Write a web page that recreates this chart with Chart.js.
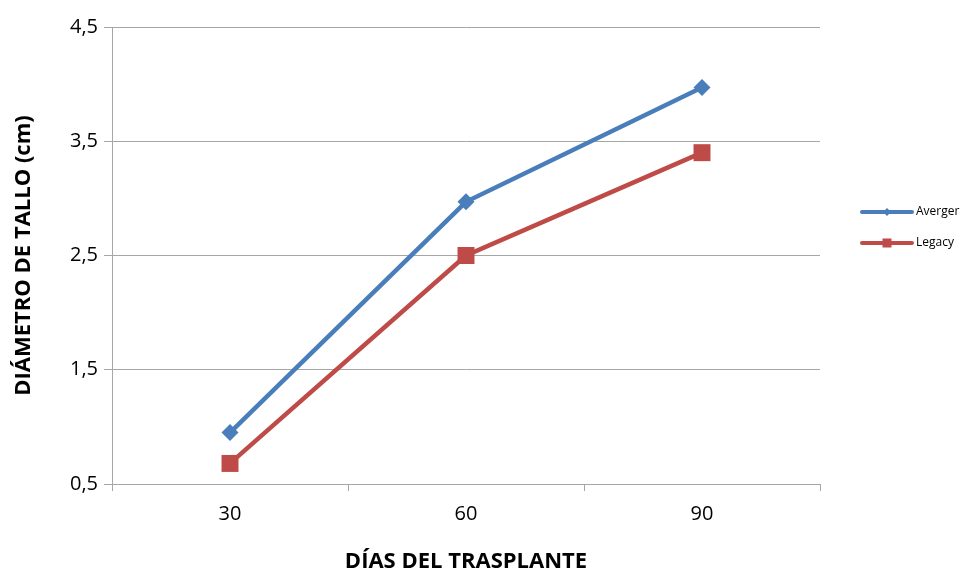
<!DOCTYPE html>
<html>
<head>
<meta charset="utf-8">
<script src="https://cdn.jsdelivr.net/npm/chart.js@4"></script>
<style>
  html, body { margin: 0; padding: 0; background: #fff; }
  #wrap { width: 960px; height: 575px; }
</style>
</head>
<body>
<div id="wrap"><canvas id="c" width="960" height="575"></canvas></div>
<script>
const categories = ["30", "60", "90"];
const avergerValues = [0.95, 2.97, 3.97];
const legacyValues = [0.68, 2.50, 3.40];
const yTicks = [0.5, 1.5, 2.5, 3.5, 4.5];
const seriesNames = ["Averger", "Legacy"];

const FONT = "'Open Sans', 'Liberation Sans', sans-serif";
const BLUE = "#4a7ebb";
const RED = "#be4b48";
const GRID = "#a6a6a6";

const legendPlugin = {
  id: "sideLegend",
  afterDraw(chart) {
    const ctx = chart.ctx;
    const items = chart.data.datasets;
    const x0 = 862, x1 = 912;
    const ys = [212, 243];
    ctx.save();
    items.forEach((ds, i) => {
      const y = ys[i];
      ctx.strokeStyle = ds.borderColor;
      ctx.lineWidth = 4;
      ctx.lineCap = "round";
      ctx.beginPath();
      ctx.moveTo(x0, y);
      ctx.lineTo(x1, y);
      ctx.stroke();
      ctx.fillStyle = ds.borderColor;
      const xm = (x0 + x1) / 2;
      if (ds.pointStyle === "rectRot") {
        ctx.beginPath();
        ctx.moveTo(xm, y - 4); ctx.lineTo(xm + 4, y); ctx.lineTo(xm, y + 4); ctx.lineTo(xm - 4, y);
        ctx.closePath(); ctx.fill();
      } else {
        ctx.fillRect(xm - 4.5, y - 4.5, 9, 9);
      }
      ctx.fillStyle = "#000";
      ctx.font = "12px " + FONT;
      ctx.textBaseline = "middle";
      ctx.textAlign = "left";
      ctx.fillText(ds.label, x1 + 4, y);
    });
    ctx.restore();
  }
};

new Chart(document.getElementById("c"), {
  type: "line",
  data: {
    labels: categories,
    datasets: [
      {
        label: seriesNames[0],
        data: avergerValues,
        borderColor: BLUE,
        backgroundColor: BLUE,
        borderWidth: 4.5,
        pointStyle: "rectRot",
        pointRadius: 8.5,
        pointBorderWidth: 0,
        tension: 0
      },
      {
        label: seriesNames[1],
        data: legacyValues,
        borderColor: RED,
        backgroundColor: RED,
        borderWidth: 4.5,
        pointStyle: "rect",
        pointRadius: 12,
        pointBorderWidth: 0,
        tension: 0
      }
    ]
  },
  options: {
    responsive: false,
    animation: false,
    devicePixelRatio: 1,
    layout: { padding: { left: 0, right: 140, top: 27, bottom: 0 } },
    plugins: {
      legend: { display: false },
      tooltip: { enabled: false }
    },
    scales: {
      x: {
        offset: true,
        grid: {
          offset: true,
          drawOnChartArea: false,
          drawTicks: true,
          tickLength: 7,
          color: GRID
        },
        border: { display: true, color: GRID, width: 1 },
        ticks: {
          color: "#000",
          font: { family: FONT, size: 20 },
          padding: 11
        },
        title: {
          display: true,
          text: "DÍAS DEL TRASPLANTE",
          color: "#000",
          font: { family: FONT, size: 22, weight: "bold" },
          padding: { top: 10, bottom: 0 }
        },
        afterFit(scale) { scale.height = 91; }
      },
      y: {
        min: 0.5,
        max: 4.5,
        afterBuildTicks(scale) { scale.ticks = yTicks.map(v => ({ value: v })); },
        grid: {
          color: GRID,
          lineWidth: 1,
          drawTicks: true,
          tickLength: 8
        },
        border: { display: true, color: GRID, width: 1 },
        ticks: {
          color: "#000",
          font: { family: FONT, size: 20 },
          padding: 6,
          callback: (v) => Number(v).toFixed(1).replace(".", ",")
        },
        title: {
          display: true,
          text: "DIÁMETRO DE TALLO (cm)",
          color: "#000",
          font: { family: FONT, size: 22, weight: "bold" },
          padding: { top: 11, bottom: 10 }
        },
        afterFit(scale) { scale.width = 112; }
      }
    }
  },
  plugins: [legendPlugin]
});
</script>
</body>
</html>
